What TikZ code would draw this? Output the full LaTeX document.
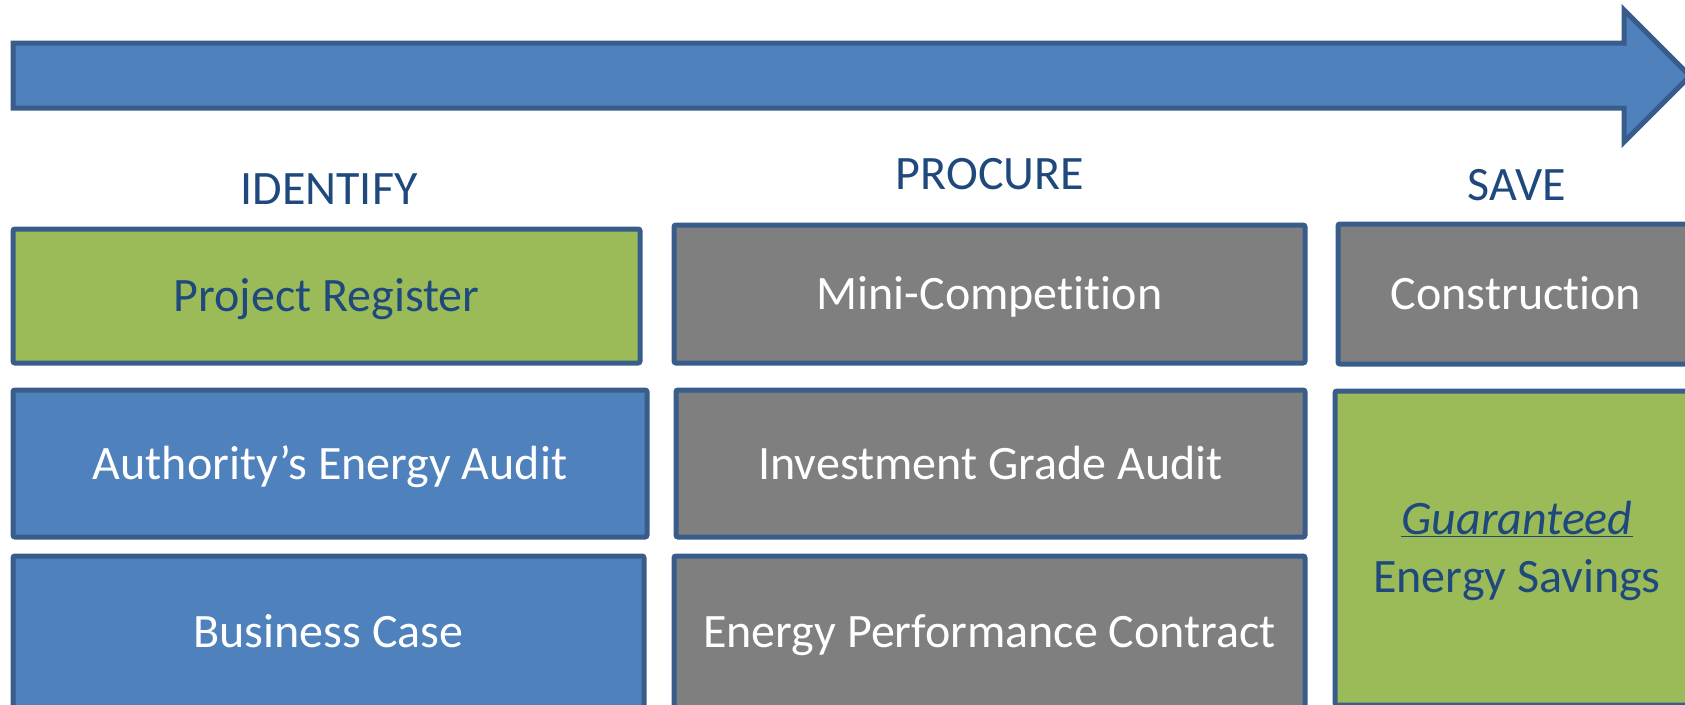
\documentclass[tikz,border=0pt]{standalone}
\usepackage{fontspec}
\setmainfont[Ligatures=NoCommon]{Carlito}
\definecolor{arrowfill}{HTML}{4F81BD}
\definecolor{edge}{HTML}{385D8A}
\definecolor{greenfill}{HTML}{9BBB59}
\definecolor{grayfill}{HTML}{7F7F7F}
\definecolor{darktext}{HTML}{1F497D}
\newcommand\boxstrut{\rule[-13pt]{0pt}{57pt}}
\tikzset{
  box/.style={rectangle, draw=edge, line width=5pt, rounded corners=2pt, inner sep=0pt, align=center,
    font=\fontsize{48}{58}\selectfont},
  bluebox/.style={box, fill=arrowfill, text=white},
  graybox/.style={box, fill=grayfill, text=white},
  greenbox/.style={box, fill=greenfill, text=darktext},
  heading/.style={text=darktext, inner sep=0pt, font=\fontsize{48}{58}\selectfont},
}
\begin{document}
\begin{tikzpicture}[x=1pt, y=-1pt]
\useasboundingbox (0,0) rectangle (1685,704);
\clip (0,0) rectangle (1685,704);
% big arrow
\draw[fill=arrowfill, draw=edge, line width=5pt, line join=miter]
  (13,43) -- (1624,43) -- (1624,10) -- (1690,76) -- (1624,142) -- (1624,108) -- (13,108) -- cycle;
% headings
\node[heading] (hid) at (329,189) {IDENTIFY};
\node[heading] (hpr) at (990,174) {PROCURE};
\node[heading] (hsv) at (1517,185) {SAVE};
% column 1
\node[greenbox, minimum width=627pt, minimum height=134pt] (pr) at (326.5,296) {\boxstrut Project Register};
\node[bluebox, minimum width=634pt, minimum height=147pt] (aa) at (330,463.5) {\boxstrut Authority’s Energy Audit};
\node[bluebox, minimum width=631pt, minimum height=152pt] (bc) at (328.5,632) {\boxstrut Business Case};
% column 2
\node[graybox, minimum width=631pt, minimum height=138pt] (mc) at (989.5,294) {\boxstrut Mini-Competition};
\node[graybox, minimum width=629pt, minimum height=147pt] (ig) at (990.5,463.5) {\boxstrut Investment Grade Audit};
\node[graybox, minimum width=631pt, minimum height=152pt] (ep) at (989.5,632) {\boxstrut Energy Performance Contract};
% column 3
\node[graybox, minimum width=356pt, minimum height=140pt] (co) at (1516,294) {\boxstrut Construction};
\node[greenbox, minimum width=364pt, minimum height=314pt] (gs) at (1517,548) {\boxstrut\underline{\textit{Guaranteed}}\\\boxstrut Energy Savings};
\end{tikzpicture}
\end{document}
